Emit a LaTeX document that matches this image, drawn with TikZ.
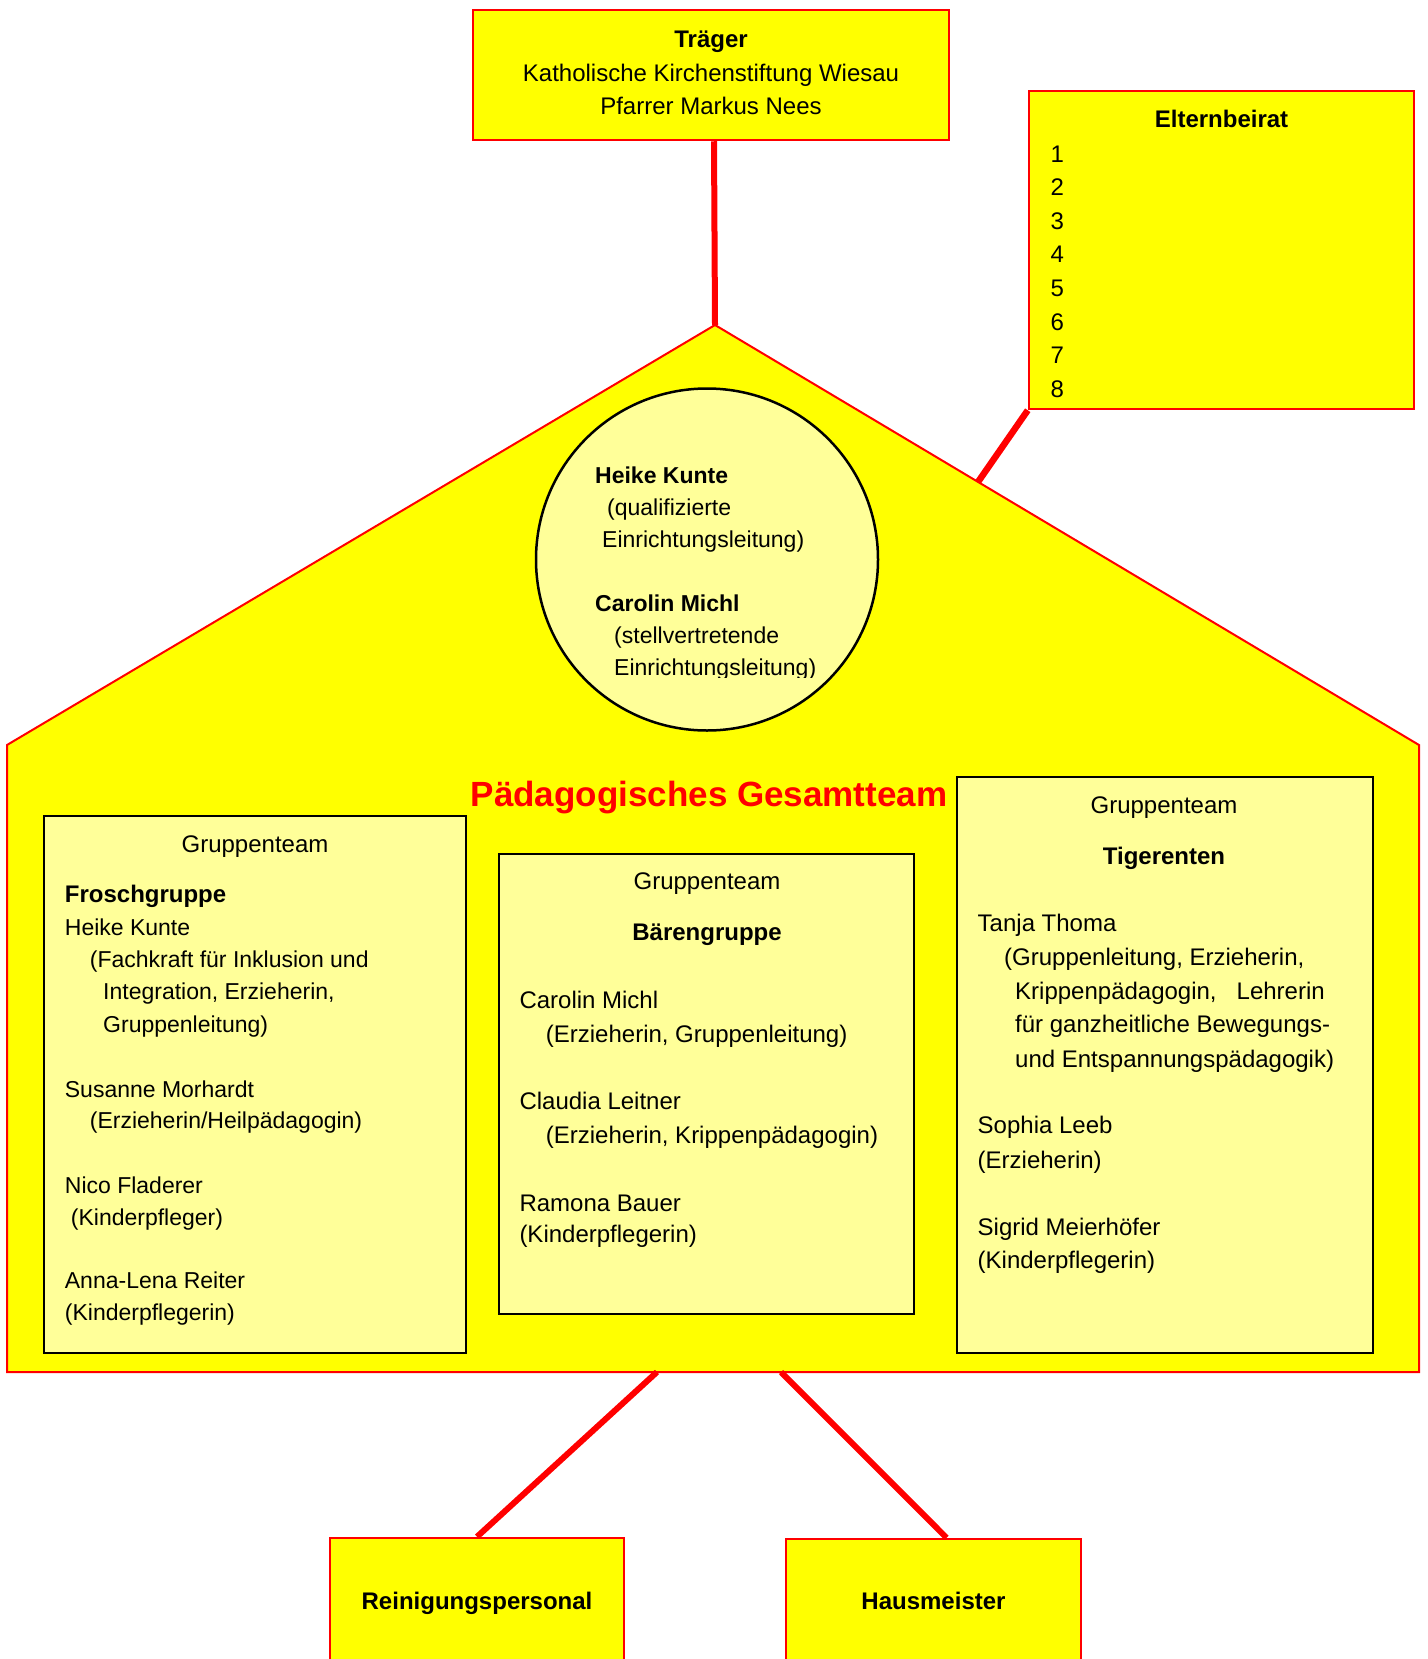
\documentclass[tikz,border=0pt]{standalone}
\usepackage{fontspec}
\setmainfont{Liberation Sans}
\definecolor{yel}{HTML}{FFFF00}
\definecolor{lyel}{HTML}{FFFF99}
\definecolor{rd}{HTML}{FF0000}
\newcommand\LT[4]{\node[tl] (#1) at (#2,#3) {#4};}
\newcommand\CT[4]{\node[tc] (#1) at (#2,#3) {#4};}
\newcommand\LB[4]{\node[tlb] (#1) at (#2,#3) {#4};}
\newcommand\CB[4]{\node[tcb] (#1) at (#2,#3) {#4};}
\begin{document}
\begin{tikzpicture}[x=1pt,y=-1pt,
  tl/.style={inner sep=0pt, anchor=base west, font=\fontsize{23}{28}\selectfont},
  tc/.style={inner sep=0pt, anchor=base, font=\fontsize{23}{28}\selectfont},
  tlb/.style={inner sep=0pt, anchor=base west, font=\fontsize{24}{28}\selectfont},
  tcb/.style={inner sep=0pt, anchor=base, font=\fontsize{24}{28}\selectfont},
  conn/.style={draw=rd, line width=6pt},
  ybox/.style={draw=rd, fill=yel, line width=2.5pt, rectangle, inner sep=0pt},
  gbox/.style={draw=black, fill=lyel, line width=1.2pt, rectangle, inner sep=0pt}]

\path[use as bounding box] (0,0) rectangle (1427,1659);
\clip (0,0) rectangle (1427,1659);

% house
\draw[draw=rd, fill=yel, line width=2pt] (715,325) -- (1419,745) -- (1419,1372) -- (7,1372) -- (7,745) -- cycle;
\coordinate (apex) at (715,325);
\coordinate (roofpt) at (978,482);
\coordinate (hb1) at (657,1372);
\coordinate (hb2) at (781,1372);

% boxes
\node[ybox, minimum width=476pt, minimum height=130pt] (traeger) at (711,75) {};
\node[ybox, minimum width=385pt, minimum height=318pt] (eltern) at (1221.5,250) {};
\node[ybox, minimum width=294pt, minimum height=180pt] (rein) at (477,1628) {};
\node[ybox, minimum width=295pt, minimum height=180pt] (haus) at (933.5,1629) {};

% connectors
\draw[conn] ([xshift=3pt]traeger.south) -- (apex);
\draw[conn, line width=6.5pt] (eltern.south west) -- (roofpt);
\draw[conn] (hb1) -- (rein.north);
\draw[conn] (hb2) -- ([xshift=13pt]haus.north);

% Traeger text
\CB{tr1}{711}{48}{\bfseries Träger}
\CB{tr2}{711}{82}{Katholische Kirchenstiftung Wiesau}
\CB{tr3}{711}{115}{Pfarrer Markus Nees}

% Elternbeirat text
\CB{el0}{1221.5}{128}{\bfseries Elternbeirat}
\foreach \i [count=\k from 0] in {1,...,8}{
  \node[tlb] (eln\i) at (1050.5,162+33.6*\k) {\i};
}

% bottom texts
\CB{reintx}{477}{1609}{\bfseries Reinigungspersonal}
\CB{haustx}{933.5}{1609}{\bfseries Hausmeister}

% leadership circle
\node[circle, draw=black, fill=lyel, line width=2.5pt, minimum size=342pt, inner sep=0pt] (leit) at (707,559.5) {};
\begin{scope}
\clip (500,380) rectangle (900,677);
\LT{c1}{595}{483}{\bfseries Heike Kunte}
\LT{c2}{607}{515}{(qualifizierte}
\LT{c3}{602}{547}{Einrichtungsleitung)}
\LT{c4}{595}{611}{\bfseries Carolin Michl}
\LT{c5}{614}{643}{(stellvertretende}
\LT{c6}{614}{675}{Einrichtungsleitung)}
\end{scope}

% title
\node[inner sep=0pt, anchor=base, text=rd, font=\fontsize{35}{40}\selectfont\bfseries] (title) at (709,806) {Pädagogisches Gesamtteam};

% Froschgruppe
\node[gbox, minimum width=422pt, minimum height=537pt] (frosch) at (255,1084.5) {};
\CB{f0}{255}{852}{Gruppenteam}
\LB{f1}{64.7}{902}{\bfseries Froschgruppe}
\LT{f2}{64.7}{935}{Heike Kunte}
\LT{f3}{89.7}{967}{(Fachkraft für Inklusion und}
\LT{f4}{103}{999}{Integration, Erzieherin,}
\LT{f5}{103}{1032}{Gruppenleitung)}
\LT{f6}{64.7}{1097}{Susanne Morhardt}
\LT{f7}{89.7}{1128}{(Erzieherin/Heilpädagogin)}
\LT{f8}{64.7}{1193}{Nico Fladerer}
\LT{f9}{70.7}{1225}{(Kinderpfleger)}
\LT{f10}{64.7}{1288}{Anna-Lena Reiter}
\LT{f11}{64.7}{1320}{(Kinderpflegerin)}

% Baerengruppe
\node[gbox, minimum width=415pt, minimum height=460pt] (baer) at (706.5,1084) {};
\CB{b0}{707}{889}{Gruppenteam}
\CB{b1}{707}{940}{\bfseries Bärengruppe}
\LB{b2}{519.3}{1008}{Carolin Michl}
\LB{b3}{545.7}{1042}{(Erzieherin, Gruppenleitung)}
\LB{b4}{519.3}{1109}{Claudia Leitner}
\LB{b5}{545.7}{1143}{(Erzieherin, Krippenpädagogin)}
\LB{b6}{519.3}{1211}{Ramona Bauer}
\LB{b7}{519.3}{1242}{(Kinderpflegerin)}

% Tigerenten
\node[gbox, minimum width=416pt, minimum height=576pt] (tiger) at (1165,1065) {};
\CB{g0}{1164}{813}{Gruppenteam}
\CB{g1}{1164}{864}{\bfseries Tigerenten}
\LB{g2}{977.5}{931}{Tanja Thoma}
\LB{g3}{1004}{965}{(Gruppenleitung, Erzieherin,}
\LB{g4}{1015}{999}{Krippenpädagogin,\ \ \ Lehrerin}
\LB{g5}{1015}{1032}{für ganzheitliche Bewegungs-}
\LB{g6}{1015}{1067}{und Entspannungspädagogik)}
\LB{g7}{977.5}{1133}{Sophia Leeb}
\LB{g8}{977.5}{1168}{(Erzieherin)}
\LB{g9}{977.5}{1235}{Sigrid Meierhöfer}
\LB{g10}{977.5}{1268}{(Kinderpflegerin)}
\end{tikzpicture}
\end{document}
